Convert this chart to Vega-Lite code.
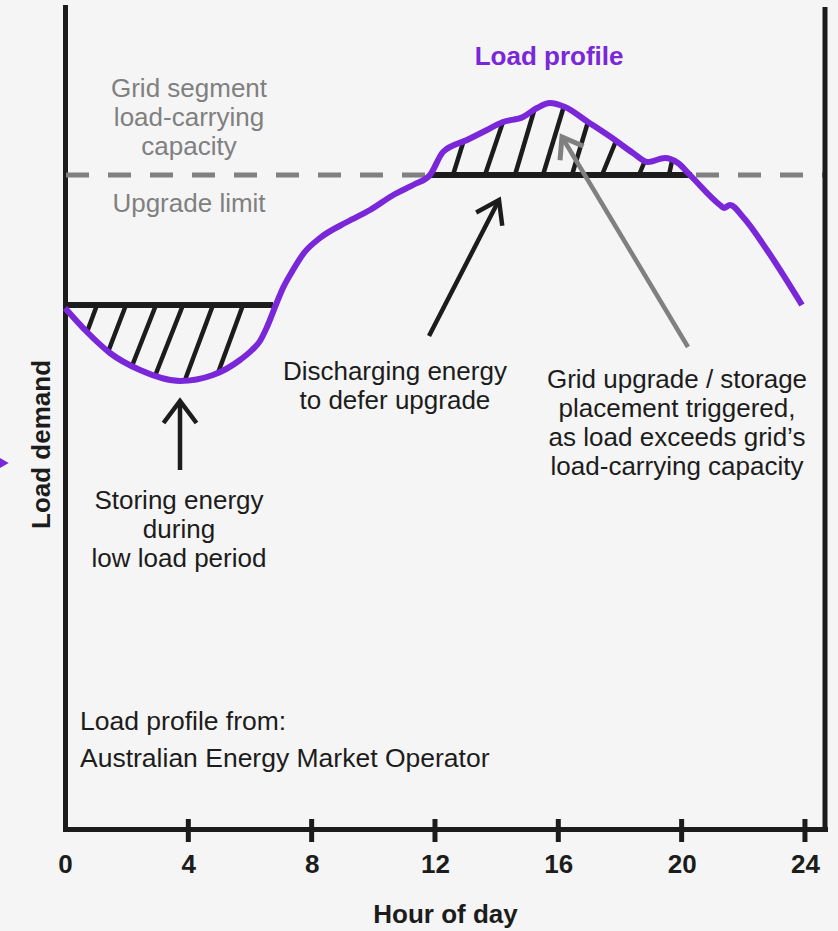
{
  "$schema": "https://vega.github.io/schema/vega-lite/v6.json",
  "width": 760,
  "height": 822,
  "autosize": {"type": "none"},
  "padding": {"left": 65, "top": 7, "right": 13, "bottom": 102},
  "background": "#f5f5f5",
  "config": {
    "view": {"stroke": null},
    "font": "Liberation Sans",
    "axis": {"grid": false, "domainCap": "square"}
  },
  "datasets": {
    "curve": [
      {"hour": 0.0, "load": 521}, {"hour": 0.714, "load": 497}, {"hour": 1.459, "load": 476},
      {"hour": 2.432, "load": 459}, {"hour": 3.73, "load": 448}, {"hour": 4.8, "load": 454},
      {"hour": 5.676, "load": 469}, {"hour": 6.065, "load": 479}, {"hour": 6.325, "load": 488},
      {"hour": 6.551, "load": 502},
      {"hour": 6.876, "load": 527}, {"hour": 7.07, "load": 541}, {"hour": 7.395, "load": 559},
      {"hour": 7.75, "load": 576}, {"hour": 8.27, "load": 591}, {"hour": 9.146, "load": 607},
      {"hour": 9.892, "load": 619}, {"hour": 10.703, "load": 635}, {"hour": 11.351, "load": 645},
      {"hour": 11.838, "load": 654}, {"hour": 12.26, "load": 677}, {"hour": 13.038, "load": 689},
      {"hour": 13.686, "load": 699}, {"hour": 14.205, "load": 707}, {"hour": 14.854, "load": 712},
      {"hour": 15.308, "load": 721}, {"hour": 15.73, "load": 726}, {"hour": 16.216, "load": 722},
      {"hour": 16.962, "load": 707}, {"hour": 17.838, "load": 689}, {"hour": 18.422, "load": 676},
      {"hour": 18.908, "load": 667}, {"hour": 19.46, "load": 671}, {"hour": 19.881, "load": 666},
      {"hour": 20.27, "load": 654}, {"hour": 21.243, "load": 624}, {"hour": 21.373, "load": 621},
      {"hour": 21.568, "load": 624}, {"hour": 21.99, "load": 612}, {"hour": 22.768, "load": 579},
      {"hour": 23.903, "load": 524}
    ],
    "hatch": [
      {"hour": 0.714, "load": 497, "hour2": 1.038, "load2": 524},
      {"hour": 1.395, "load": 477, "hour2": 1.978, "load2": 524},
      {"hour": 2.173, "load": 463, "hour2": 2.951, "load2": 524},
      {"hour": 2.919, "load": 453, "hour2": 3.827, "load2": 524},
      {"hour": 3.892, "load": 449, "hour2": 4.8, "load2": 524},
      {"hour": 4.962, "load": 456, "hour2": 5.773, "load2": 524},
      {"hour": 12.585, "load": 654, "hour2": 12.909, "load2": 686},
      {"hour": 13.622, "load": 654, "hour2": 14.205, "load2": 707},
      {"hour": 14.595, "load": 654, "hour2": 15.211, "load2": 718},
      {"hour": 15.503, "load": 654, "hour2": 16.184, "load2": 723},
      {"hour": 16.443, "load": 654, "hour2": 16.962, "load2": 707},
      {"hour": 17.417, "load": 654, "hour2": 17.871, "load2": 688},
      {"hour": 18.617, "load": 654, "hour2": 18.779, "load2": 666},
      {"hour": 19.59, "load": 654, "hour2": 19.687, "load2": 668}
    ],
    "base": [
      {"hour": 0, "hour2": 6.746, "load": 524},
      {"hour": 11.838, "hour2": 20.335, "load": 654}
    ],
    "limit": [{"load": 654}],
    "frame": [{"hour": 24.65}],
    "arrows": [
      {"role": "storing", "hour": 3.73, "load": 359, "hour2": 3.73, "load2": 428},
      {"role": "discharging", "hour": 11.806, "load": 493, "hour2": 14.076, "load2": 629},
      {"role": "trigger", "hour": 20.206, "load": 482, "hour2": 16.119, "load2": 692}
    ],
    "ticks": [{"hour": 4}, {"hour": 8}, {"hour": 12}, {"hour": 16}, {"hour": 20}, {"hour": 24}],
    "notes": [
      {"kind": "gray", "text": "Grid segment\nload-carrying\ncapacity", "hour": 4.022, "load": 740},
      {"kind": "gray", "text": "Upgrade limit", "hour": 4.022, "load": 625},
      {"kind": "dark", "text": "Discharging energy\nto defer upgrade", "hour": 10.7, "load": 457},
      {"kind": "dark", "text": "Storing energy\nduring\nlow load period", "hour": 3.697, "load": 328},
      {"kind": "dark", "text": "Grid upgrade / storage\nplacement triggered,\nas load exceeds grid’s\nload-carrying capacity", "hour": 19.85, "load": 449},
      {"kind": "left", "text": "Load profile from:", "hour": 0.487, "load": 107},
      {"kind": "left", "text": "Australian Energy Market Operator", "hour": 0.487, "load": 70},
      {"kind": "purple", "text": "Load profile", "hour": 15.7, "load": 772}
    ],
    "marker": [{"hour": -2.01, "load": 366}]
  },
  "layer": [
    {
      "data": {"name": "limit"},
      "mark": {"type": "rule", "color": "#808080", "strokeWidth": 5, "strokeDash": [23, 19], "strokeDashOffset": 20},
      "encoding": {"y": {"field": "load", "type": "quantitative"}}
    },
    {
      "data": {"name": "hatch"},
      "mark": {"type": "rule", "color": "#1c1c1c", "strokeWidth": 4.5},
      "encoding": {
        "x": {"field": "hour", "type": "quantitative"},
        "y": {"field": "load", "type": "quantitative"},
        "x2": {"field": "hour2"},
        "y2": {"field": "load2"}
      }
    },
    {
      "data": {"name": "base"},
      "mark": {"type": "rule", "color": "#1c1c1c", "strokeWidth": 6},
      "encoding": {
        "x": {"field": "hour", "type": "quantitative"},
        "x2": {"field": "hour2"},
        "y": {"field": "load", "type": "quantitative"}
      }
    },
    {
      "data": {"name": "curve"},
      "mark": {"type": "line", "color": "#7a26d9", "strokeWidth": 6, "interpolate": "monotone"},
      "encoding": {
        "x": {
          "field": "hour", "type": "quantitative",
          "scale": {"domain": [0, 24.65], "nice": false, "zero": false},
          "axis": {
            "values": [0, 4, 8, 12, 16, 20, 24], "ticks": false,
            "domainColor": "#1c1c1c", "domainWidth": 5,
            "labelFontSize": 26, "labelFontWeight": "bold", "labelColor": "#1c1c1c",
            "labelPadding": 22, "labelFlush": false,
            "title": "Hour of day", "titleFontSize": 26, "titleFontWeight": "bold",
            "titleColor": "#1c1c1c", "titlePadding": 24
          }
        },
        "y": {
          "field": "load", "type": "quantitative",
          "scale": {"domain": [0, 822], "nice": false, "zero": false},
          "axis": {
            "ticks": false, "labels": false,
            "domainColor": "#1c1c1c", "domainWidth": 5,
            "title": "Load demand", "titleFontSize": 26, "titleFontWeight": "bold",
            "titleColor": "#1c1c1c", "titlePadding": 11, "titleY": 437
          }
        }
      }
    },
    {
      "data": {"name": "arrows"},
      "mark": {"type": "rule", "strokeWidth": 4.5},
      "encoding": {
        "x": {"field": "hour", "type": "quantitative"},
        "y": {"field": "load", "type": "quantitative"},
        "x2": {"field": "hour2"},
        "y2": {"field": "load2"},
        "color": {"field": "role", "type": "nominal", "scale": {"domain": ["storing", "discharging", "trigger"], "range": ["#1c1c1c", "#1c1c1c", "#808080"]}, "legend": null}
      }
    },
    {
      "data": {"name": "arrows"},
      "transform": [{"filter": "datum.role === 'storing'"}],
      "mark": {"type": "point", "shape": "M-0.75,1L0,0L0.75,1", "filled": false, "size": 1936, "strokeWidth": 4.5, "color": "#1c1c1c", "opacity": 1, "strokeJoin": "miter"},
      "encoding": {"x": {"field": "hour2", "type": "quantitative"}, "y": {"field": "load2", "type": "quantitative"}}
    },
    {
      "data": {"name": "arrows"},
      "transform": [{"filter": "datum.role === 'discharging'"}],
      "mark": {"type": "point", "shape": "M-0.68,1L0,0L0.68,1", "filled": false, "size": 1849, "angle": 27, "strokeWidth": 4.5, "color": "#1c1c1c", "opacity": 1, "strokeJoin": "miter"},
      "encoding": {"x": {"field": "hour2", "type": "quantitative"}, "y": {"field": "load2", "type": "quantitative"}}
    },
    {
      "data": {"name": "arrows"},
      "transform": [{"filter": "datum.role === 'trigger'"}],
      "mark": {"type": "point", "shape": "M-0.72,1L0,0L0.72,1", "filled": false, "size": 1444, "angle": -31, "strokeWidth": 5, "color": "#808080", "opacity": 1, "strokeJoin": "miter"},
      "encoding": {"x": {"field": "hour2", "type": "quantitative"}, "y": {"field": "load2", "type": "quantitative"}}
    },
    {
      "data": {"name": "ticks"},
      "mark": {"type": "rule", "color": "#1c1c1c", "strokeWidth": 5},
      "encoding": {
        "x": {"field": "hour", "type": "quantitative"},
        "y": {"datum": -13, "type": "quantitative"},
        "y2": {"datum": 10}
      }
    },
    {
      "data": {"name": "frame"},
      "mark": {"type": "rule", "color": "#1c1c1c", "strokeWidth": 5},
      "encoding": {
        "x": {"field": "hour", "type": "quantitative"},
        "y": {"datum": -3, "type": "quantitative"},
        "y2": {"datum": 822}
      }
    },
    {
      "data": {"name": "notes"},
      "transform": [{"filter": "datum.kind === 'gray'"}],
      "mark": {"type": "text", "color": "#808080", "fontSize": 26, "lineHeight": 29, "lineBreak": "\n", "align": "center", "baseline": "middle"},
      "encoding": {"x": {"field": "hour", "type": "quantitative"}, "y": {"field": "load", "type": "quantitative"}, "text": {"field": "text"}}
    },
    {
      "data": {"name": "notes"},
      "transform": [{"filter": "datum.kind === 'dark'"}],
      "mark": {"type": "text", "color": "#1c1c1c", "fontSize": 26, "lineHeight": 29, "lineBreak": "\n", "align": "center", "baseline": "middle"},
      "encoding": {"x": {"field": "hour", "type": "quantitative"}, "y": {"field": "load", "type": "quantitative"}, "text": {"field": "text"}}
    },
    {
      "data": {"name": "notes"},
      "transform": [{"filter": "datum.kind === 'left'"}],
      "mark": {"type": "text", "color": "#1c1c1c", "fontSize": 26.5, "align": "left", "baseline": "middle"},
      "encoding": {"x": {"field": "hour", "type": "quantitative"}, "y": {"field": "load", "type": "quantitative"}, "text": {"field": "text"}}
    },
    {
      "data": {"name": "notes"},
      "transform": [{"filter": "datum.kind === 'purple'"}],
      "mark": {"type": "text", "color": "#7a26d9", "fontSize": 26, "fontWeight": "bold", "align": "center", "baseline": "middle"},
      "encoding": {"x": {"field": "hour", "type": "quantitative"}, "y": {"field": "load", "type": "quantitative"}, "text": {"field": "text"}}
    },
    {
      "data": {"name": "marker"},
      "mark": {"type": "point", "shape": "triangle-right", "filled": true, "size": 169, "color": "#7a26d9", "opacity": 1},
      "encoding": {"x": {"field": "hour", "type": "quantitative"}, "y": {"field": "load", "type": "quantitative"}}
    }
  ]
}
